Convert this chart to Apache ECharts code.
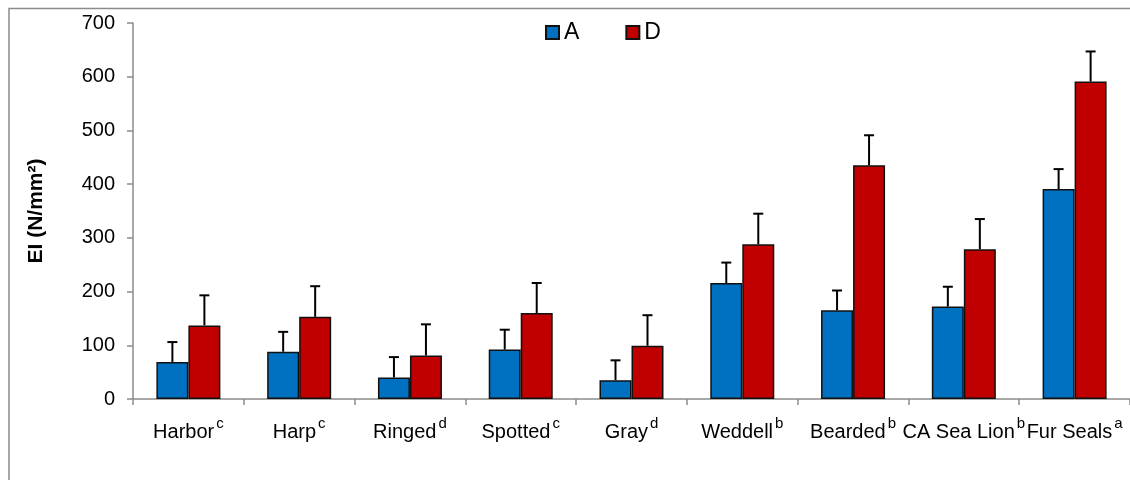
<!DOCTYPE html>
<html>
<head>
<meta charset="utf-8">
<script src="https://cdn.jsdelivr.net/npm/echarts@6/dist/echarts.min.js"></script>
<style>html,body{margin:0;padding:0;background:#fff;}#c{width:1130px;height:480px;}</style>
</head>
<body>
<div id="c"></div>
<script>
const categories = ['Harbor', 'Harp', 'Ringed', 'Spotted', 'Gray', 'Weddell', 'Bearded', 'CA Sea Lion', 'Fur Seals'];
const superscripts = ['c', 'c', 'd', 'c', 'd', 'b', 'b', 'b', 'a'];
const valuesA = [69, 88, 40, 92, 35, 216, 165, 172, 391];
const errorsA = [37, 37, 38, 37, 37, 38, 37, 37, 37];
const valuesD = [137, 153, 81, 160, 99, 288, 435, 279, 591];
const errorsD = [56, 57, 58, 56, 57, 57, 56, 56, 56];
const yTicks = { min: 0, max: 700, interval: 100 };

const FONT = '"Liberation Sans", Arial, sans-serif';
const chart = echarts.init(document.getElementById('c'));

function errData(vals, errs) {
  return vals.map((v, i) => [i, v, v + errs[i]]);
}
function errRender(offset) {
  return function (params, api) {
    const top = api.coord([api.value(0), api.value(2)]);
    const base = api.coord([api.value(0), api.value(1)]);
    const x = top[0] + offset;
    const cap = 5;
    return {
      type: 'group',
      children: [
        { type: 'line', shape: { x1: x, y1: base[1], x2: x, y2: top[1] }, style: { stroke: '#000', lineWidth: 2 } },
        { type: 'line', shape: { x1: x - cap, y1: top[1], x2: x + cap, y2: top[1] }, style: { stroke: '#000', lineWidth: 2 } }
      ]
    };
  };
}

const option = {
  animation: false,
  textStyle: { fontFamily: FONT },
  graphic: [{
    type: 'rect', left: 6.5, top: 6,
    shape: { x: 0, y: 0, width: 1200, height: 600 },
    style: { fill: 'none', stroke: '#8c8c8c', lineWidth: 1.5 },
    silent: true, z: -10
  }],
  legend: {
    left: 545, top: 21, padding: 0,
    icon: 'rect', itemWidth: 13, itemHeight: 13, itemGap: 46,
    textStyle: { fontSize: 23, color: '#000', fontFamily: FONT },
    data: ['A', 'D']
  },
  grid: { left: 133, top: 23, bottom: 81, width: 1005 },
  xAxis: {
    type: 'category',
    data: categories,
    axisLine: { lineStyle: { color: '#8c8c8c', width: 1.5 } },
    axisTick: { show: true, length: 6, lineStyle: { color: '#8c8c8c', width: 1.5 } },
    axisLabel: {
      interval: 0, margin: 17, color: '#000', hideOverlap: false,
      formatter: function (v, i) { return '{n|' + v + '}{s|' + superscripts[i] + '}'; },
      rich: {
        n: { fontSize: 20, lineHeight: 32, fontFamily: FONT, color: '#000' },
        s: { fontSize: 15, lineHeight: 15, verticalAlign: 'top', padding: [0, 0, 0, 2], fontFamily: FONT, color: '#000' }
      }
    }
  },
  yAxis: {
    type: 'value', min: yTicks.min, max: yTicks.max, interval: yTicks.interval,
    name: 'EI (N/mm²)', nameLocation: 'middle', nameRotate: 90, nameGap: 86,
    nameTextStyle: { fontSize: 21, fontWeight: 'bold', color: '#000', fontFamily: FONT },
    axisLine: { show: true, lineStyle: { color: '#8c8c8c', width: 1.5 } },
    axisTick: { show: true, length: 6, lineStyle: { color: '#8c8c8c', width: 1.5 } },
    axisLabel: { margin: 18, fontSize: 20, color: '#000', fontFamily: FONT },
    splitLine: { show: false }
  },
  series: [
    { name: 'A', type: 'bar', data: valuesA, barWidth: 32, barGap: '0%',
      itemStyle: { color: '#0070C0', borderColor: '#111', borderWidth: 1.5 } },
    { name: 'D', type: 'bar', data: valuesD, barWidth: 32, barGap: '0%',
      itemStyle: { color: '#C00000', borderColor: '#111', borderWidth: 1.5 } },
    { name: 'errA', type: 'custom', data: errData(valuesA, errorsA), renderItem: errRender(-16), z: 1, encode: { x: 0, y: [1, 2] } },
    { name: 'errD', type: 'custom', data: errData(valuesD, errorsD), renderItem: errRender(16), z: 1, encode: { x: 0, y: [1, 2] } }
  ]
};
chart.setOption(option);
</script>
</body>
</html>
